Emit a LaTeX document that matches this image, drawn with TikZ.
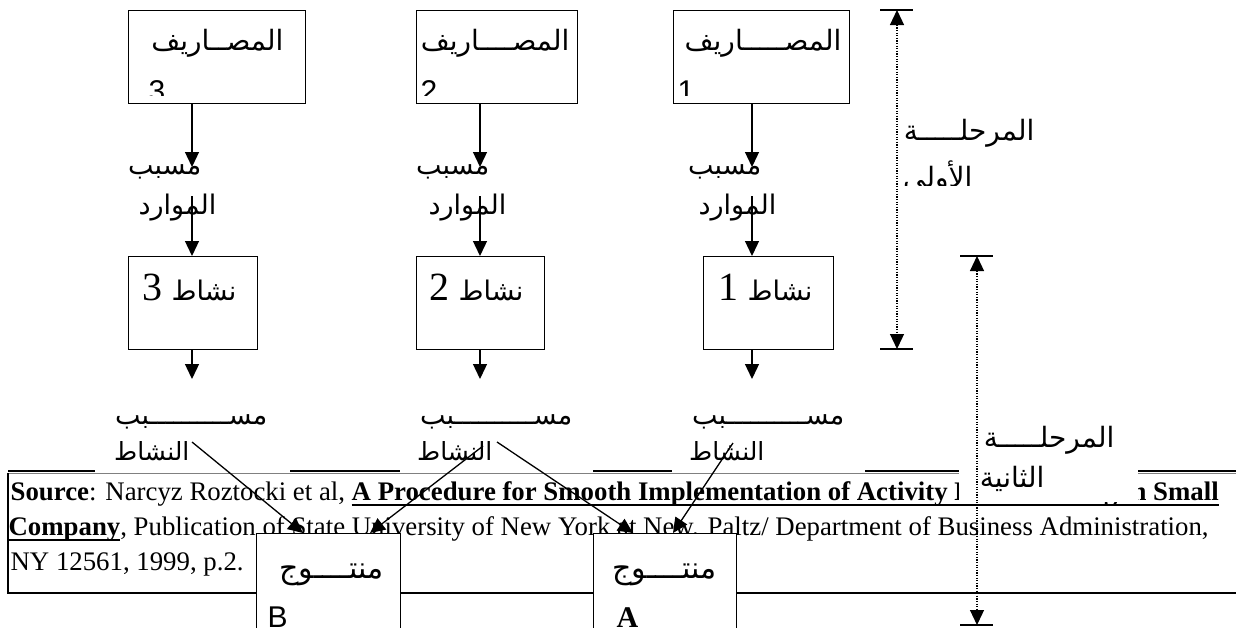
\documentclass[tikz,border=0pt]{standalone}
\usepackage{fontspec}
\setmainfont{Liberation Serif}
\newfontfamily\arabicfont[Script=Arabic]{DejaVu Sans}
\newfontfamily\sansnum{Liberation Sans}
\usetikzlibrary{arrows.meta}
\TeXXeTstate=1
\newsavebox\myulbox
\newcommand\myul[1]{\sbox\myulbox{#1}\rlap{\rule[-6pt]{\wd\myulbox}{2.2pt}}\usebox\myulbox}
\begin{document}
\begin{tikzpicture}[x=1pt,y=-1pt,line width=1.3pt,
  box/.style={draw,line width=1.3pt,inner sep=0pt,anchor=north west},
  arr/.style={-{Triangle[width=14pt,length=15pt]}},
  dimline/.style={{Triangle[width=14pt,length=15pt]}-{Triangle[width=14pt,length=15pt]},dash pattern=on 1.3pt off 1.3pt,line width=1.2pt},
  ar/.style={inner sep=0pt,anchor=base east,font=\arabicfont\fontsize{25}{30}\selectfont},
  arm/.style={inner sep=0pt,anchor=base east,font=\arabicfont\fontsize{27}{30}\selectfont},
  arex/.style={inner sep=0pt,anchor=base east,font=\arabicfont\fontsize{28}{30}\selectfont},
  arbig/.style={inner sep=0pt,anchor=base east,font=\arabicfont\fontsize{27}{36}\selectfont},
  arph/.style={inner sep=0pt,anchor=base east,font=\arabicfont\fontsize{28}{34}\selectfont},
  arpr/.style={inner sep=0pt,anchor=base east,font=\arabicfont\fontsize{30}{34}\selectfont},
  src/.style={inner sep=0pt,anchor=base west,font=\fontsize{26.8}{34}\selectfont},
  num/.style={inner sep=0pt,anchor=base west,font=\sansnum\fontsize{30}{34}\selectfont}]
\useasboundingbox (0,0) rectangle (1236,627);
\clip (0,0) rectangle (1236,627);
% table of the source note
\draw[gray,line width=1pt] (8,473) -- (1236,473);
\foreach \a/\b in {8/95,290/400,593/672,865/959,1138/1236}
  \draw[line width=1.5pt] (\a,471) -- (\b,471);
\draw[line width=1.5pt] (8,473) -- (8,593) -- (1236,593);
\node[src] (s1) at (10,500) {\textbf{Source}: Narcyz Roztocki et al, \textbf{\myul{A Procedure for Smooth Implementation of Activity Based Costing in Small}}};
\node[src] (s2) at (8,535) {\textbf{\myul{Company}}, Publication of State University of New York at New. Paltz/ Department of Business Administration,};
\node[src] (s3) at (10,570) {NY 12561, 1999, p.2.};
% white text box of phase 2 label
\fill[white] (959,463) rectangle (1138,502);
% expense boxes
\node[box,minimum width=177pt,minimum height=93pt] (E3) at (128,10) {};
\node[box,minimum width=161pt,minimum height=93pt] (E2) at (416,10) {};
\node[box,minimum width=176pt,minimum height=93pt] (E1) at (673,10) {};
\begin{scope}
\clip (129,11) rectangle (304,95);
\node[arex] (t3) at (284,50) {\beginR المصــاريف\endR};
\node[num] (n3) at (148,101) {3};
\end{scope}
\begin{scope}
\clip (417,11) rectangle (576,95);
\node[arex] (t2) at (570,50) {\beginR المصــــاريف\endR};
\node[num] (n2) at (420,101) {2};
\end{scope}
\begin{scope}
\clip (674,11) rectangle (848,95);
\node[arex] (t1) at (842,50) {\beginR المصـــــاريف\endR};
\node[num] (n1) at (677,101) {1};
\end{scope}
% resource driver labels
\node[arm] (m3) at (202,174) {\beginR مسبب\endR};
\node[arm] (m2) at (490,174) {\beginR مسبب\endR};
\node[arm] (m1) at (762,174) {\beginR مسبب\endR};
\node[arm] (w3) at (217,214) {\beginR الموارد\endR};
\node[arm] (w2) at (507,214) {\beginR الموارد\endR};
\node[arm] (w1) at (777,214) {\beginR الموارد\endR};
% activity boxes
\node[box,minimum width=129pt,minimum height=93pt] (A3) at (128,256) {};
\node[box,minimum width=128pt,minimum height=93pt] (A2) at (416,256) {};
\node[box,minimum width=130pt,minimum height=93pt] (A1) at (703,256) {};
\node[arbig] (a3) at (237,300) {\beginR نشاط {\rmfamily\fontsize{40}{40}\selectfont 3}\endR};
\node[arbig] (a2) at (524,300) {\beginR نشاط {\rmfamily\fontsize{40}{40}\selectfont 2}\endR};
\node[arbig] (a1) at (813,300) {\beginR نشاط {\rmfamily\fontsize{40}{40}\selectfont 1}\endR};
% activity driver labels
\node[arm] (d3) at (268,424) {\beginR مســــــــــبب\endR};
\node[arm] (d2) at (573,424) {\beginR مســــــــــبب\endR};
\node[arm] (d1) at (845,424) {\beginR مســــــــــبب\endR};
\node[ar] (k3) at (190,460) {\beginR النشاط\endR};
\node[ar] (k2) at (493,460) {\beginR النشاط\endR};
\node[ar] (k1) at (765,460) {\beginR النشاط\endR};
% phase labels
\begin{scope}
\clip (895,100) rectangle (1045,185);
\node[arph] (ph1a) at (1035,140) {\beginR المرحلـــــة\endR};
\node[arph] (ph1b) at (973,187) {\beginR الأولى\endR};
\end{scope}
\node[arph] (ph2a) at (1115,447) {\beginR المرحلـــــة\endR};
\node[arph] (ph2b) at (1045,487) {\beginR الثانية\endR};
% arrow coordinates
\coordinate (c3) at (192,103); \coordinate (c2) at (480,103); \coordinate (c1) at (752,103);
\coordinate (q3) at (192,167); \coordinate (q2) at (480,167); \coordinate (q1) at (752,167);
\coordinate (r3) at (192,196); \coordinate (r2) at (480,196); \coordinate (r1) at (752,196);
\coordinate (u3) at (192,379); \coordinate (u2) at (480,379); \coordinate (u1) at (752,379);
\draw[arr] (c3) -- (q3); \draw[arr] (c2) -- (q2); \draw[arr] (c1) -- (q1);
\draw[arr] (r3) -- (r3 |- A3.north); \draw[arr] (r2) -- (r2 |- A2.north); \draw[arr] (r1) -- (r1 |- A1.north);
\draw[arr] (u3 |- A3.south) -- (u3); \draw[arr] (u2 |- A2.south) -- (u2); \draw[arr] (u1 |- A1.south) -- (u1);
% product boxes
\node[box,fill=white,minimum width=144pt,minimum height=110pt] (PB) at (256,533) {};
\node[box,fill=white,minimum width=143pt,minimum height=110pt] (PA) at (593,533) {};
\node[arpr] (pb) at (384,578) {\beginR منتــــوج\endR};
\node[arpr] (pa) at (717,578) {\beginR منتــــوج\endR};
\node[num] (lb) at (267,627) {B};
\node[num,font=\bfseries\fontsize{30}{34}\selectfont] (la) at (616,627) {A};
% cross arrows
\coordinate (x3) at (192,442); \coordinate (x2l) at (483,446); \coordinate (x2r) at (497,442); \coordinate (x1) at (733,443);
\coordinate (b1) at (303,533); \coordinate (b2) at (370,533); \coordinate (a1p) at (633,533); \coordinate (a2p) at (673,533);
\draw[arr] (x3) -- (b1);
\draw[arr] (x2l) -- (b2);
\draw[arr] (x2r) -- (a1p);
\draw[arr] (x1) -- (a2p);
% phase dimension lines
\coordinate (p1t) at (897,10); \coordinate (p1b) at (897,349);
\coordinate (p2t) at (977,256); \coordinate (p2b) at (977,625);
\draw[line width=1.3pt] (880,10) -- (913,10) (880,349) -- (913,349);
\draw[line width=1.3pt] (960,256) -- (993,256) (960,625) -- (993,625);
\draw[dimline] (p1t) -- (p1b);
\draw[dimline] (p2t) -- (p2b);
\end{tikzpicture}
\end{document}
